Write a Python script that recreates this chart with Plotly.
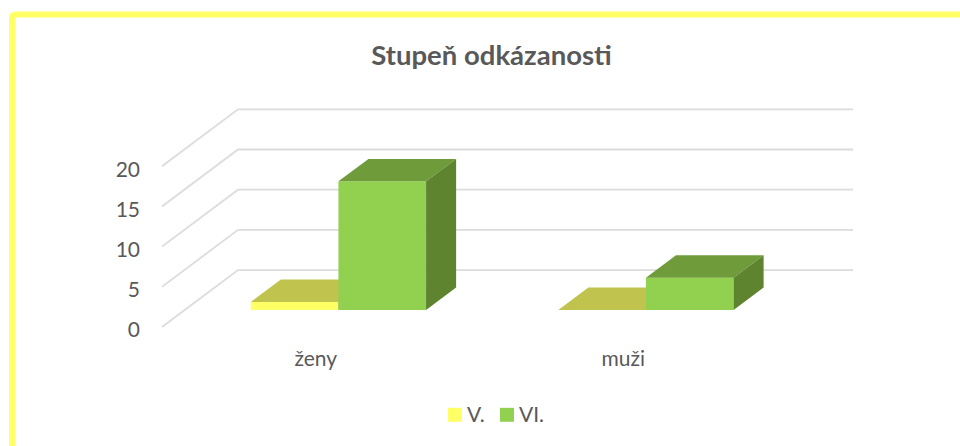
import plotly.graph_objects as go

# data
categories = ["ženy", "muži"]
series_names = ["V.", "VI."]
values_v = [1, 0]
values_vi = [16, 4]
tick_values = [0, 5, 10, 15, 20]

# colours
FRONT = {"V.": "#FFFF66", "VI.": "#92D050"}
TOP = {"V.": "#C1C34F", "VI.": "#6F9B3B"}
SIDE = {"V.": "#A8A83F", "VI.": "#5E8430"}
GRID = "#DCDCDC"
TEXT = "#595959"
FONT = "Lato"

# oblique projection, in axis units
X_MIN, X_MAX = -0.5, 1.7472
Y_MIN, Y_MAX = -0.38, 27.37
TICK_LABEL_DROP = 0.373
WALL_DX, WALL_DY = 0.2472, 7.08
BAR_DX_FRONT = 0.0738
BAR_BASE = 2.115
BAR_W = 0.285
BAR_DX, BAR_DY = 0.0977, 2.795

W, H = 960, 446
L, R, T, B = 162, 107, 106.65, 115.96
plot_w, plot_h = W - L - R, H - T - B


def px(x):
    return (x - L) / plot_w


def py(y):
    return (H - B - y) / plot_h


fig = go.Figure()

# empty trace keeps the main subplot, which only carries the tick labels
fig.add_trace(go.Scatter(x=[], y=[], showlegend=False, hoverinfo="skip", xaxis="x", yaxis="y"))

# gridlines: side wall + back wall
gx, gy = [], []
for v in tick_values:
    gx += [X_MIN, X_MIN + WALL_DX, X_MAX, None]
    gy += [v, v + WALL_DY, v + WALL_DY, None]
fig.add_trace(go.Scatter(x=gx, y=gy, mode="lines", line=dict(color=GRID, width=1.8),
                         showlegend=False, hoverinfo="skip", xaxis="x2", yaxis="y2"))


def add_series(name, values, offset, xa, ya):
    centers = [i + BAR_DX_FRONT + offset * BAR_W for i in range(len(values))]
    fig.add_trace(go.Bar(x=centers, y=values, base=[BAR_BASE] * len(values), width=BAR_W,
                         name=name, marker=dict(color=FRONT[name], line=dict(width=0)),
                         xaxis=xa, yaxis=ya, hoverinfo="y", showlegend=False))
    for c, v in zip(centers, values):
        x0, x1 = c - BAR_W / 2, c + BAR_W / 2
        top = BAR_BASE + v
        fig.add_trace(go.Scatter(
            x=[x0, x1, x1 + BAR_DX, x0 + BAR_DX, x0],
            y=[top, top, top + BAR_DY, top + BAR_DY, top],
            mode="lines", fill="toself", fillcolor=TOP[name], line=dict(width=0),
            showlegend=False, hoverinfo="skip", xaxis=xa, yaxis=ya))
        if v > 0:
            fig.add_trace(go.Scatter(
                x=[x1, x1 + BAR_DX, x1 + BAR_DX, x1, x1],
                y=[BAR_BASE, BAR_BASE + BAR_DY, top + BAR_DY, top, BAR_BASE],
                mode="lines", fill="toself", fillcolor=SIDE[name], line=dict(width=0),
                showlegend=False, hoverinfo="skip", xaxis=xa, yaxis=ya))


add_series(series_names[0], values_v, -0.5, "x3", "y3")
add_series(series_names[1], values_vi, 0.5, "x4", "y4")

hidden_x = dict(range=[X_MIN, X_MAX], visible=False, overlaying="x", fixedrange=True)
hidden_y = dict(range=[Y_MIN, Y_MAX], visible=False, overlaying="y", fixedrange=True)

# outer frame, only left and top edges are visible
fx, fy, r = 12, 14, 4
frame = (f"M {px(fx)},{py(H + 10)} L {px(fx)},{py(fy + r)} "
         f"Q {px(fx)},{py(fy)} {px(fx + r)},{py(fy)} L {px(W + 10)},{py(fy)}")

shapes = [dict(type="path", xref="paper", yref="paper", path=frame,
               line=dict(color="#FFFF66", width=6), fillcolor="rgba(0,0,0,0)")]

# legend keys drawn to the reference's tight spacing
annotations = []
for name, key_x, text_x in zip(series_names, [448, 500], [467, 519]):
    shapes.append(dict(type="rect", xref="paper", yref="paper",
                       x0=px(key_x), x1=px(key_x + 14), y0=py(422), y1=py(408),
                       fillcolor=FRONT[name], line=dict(width=0)))
    annotations.append(dict(text=name, xref="paper", yref="paper", x=px(text_x), y=py(415),
                            xanchor="left", yanchor="middle", showarrow=False,
                            xshift=-2, yshift=1, font=dict(family=FONT, size=21, color=TEXT)))

fig.update_layout(
    width=W, height=H,
    margin=dict(l=L, r=R, t=T, b=B, pad=0),
    paper_bgcolor="white", plot_bgcolor="rgba(0,0,0,0)",
    font=dict(family=FONT, size=21, color=TEXT),
    showlegend=False,
    title=dict(text="<b>Stupeň odkázanosti</b>", x=491.5 / W, xref="container",
               xanchor="center", y=1 - 55 / H, yanchor="middle",
               font=dict(family=FONT, size=27.5, color=TEXT)),
    xaxis=dict(range=[X_MIN, X_MAX], tickmode="array", tickvals=[0, 1], ticktext=categories,
               showgrid=False, zeroline=False, showline=False, ticks="", ticklabelstandoff=14,
               fixedrange=True),
    yaxis=dict(range=[Y_MIN + TICK_LABEL_DROP, Y_MAX + TICK_LABEL_DROP],
               tickmode="array", tickvals=tick_values,
               showgrid=False, zeroline=False, showline=False, ticks="", ticklabelstandoff=21,
               fixedrange=True),
    xaxis2=hidden_x, yaxis2=hidden_y,
    xaxis3=hidden_x, yaxis3=hidden_y,
    xaxis4=hidden_x, yaxis4=hidden_y,
    barmode="overlay",
    shapes=shapes,
    annotations=annotations,
)

fig.write_html("out.html", config={"displayModeBar": False},
               post_script="document.body.style.margin='0';")
